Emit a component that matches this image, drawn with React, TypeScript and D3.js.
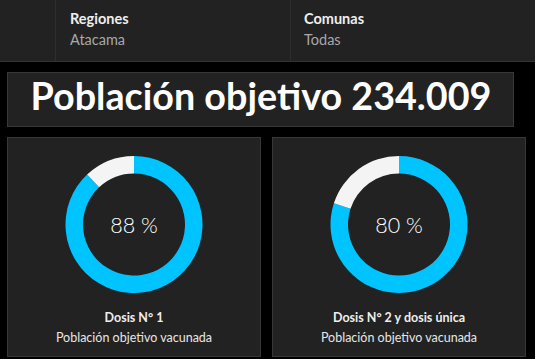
import React, { useRef, useEffect } from 'react';
import * as d3 from 'd3';

const filterLabels = ['Regiones', 'Comunas'];
const filterValues = ['Atacama', 'Todas'];
const titleText = 'Población objetivo 234.009';
const doseTitles = ['Dosis N° 1', 'Dosis N° 2 y dosis única'];
const doseSubtitles = ['Población objetivo vacunada', 'Población objetivo vacunada'];
const dosePercents = [88, 80];

function App() {
  const ref = useRef<SVGSVGElement | null>(null);

  useEffect(() => {
    const width = 535;
    const height = 359;
    const font = 'Lato, "Open Sans", sans-serif';
    const blue = '#00c4ff';

    const svg = d3.select(ref.current);
    svg.selectAll('*').remove();
    svg.attr('width', width).attr('height', height);

    svg.append('rect').attr('width', width).attr('height', height).attr('fill', '#000');

    // header bar
    svg.append('rect').attr('x', 0).attr('y', 0).attr('width', width).attr('height', 61).attr('fill', '#222');
    svg.append('line').attr('x1', 0).attr('x2', width).attr('y1', 61.5).attr('y2', 61.5).attr('stroke', '#333');
    [55, 290].forEach((x) => {
      svg.append('line').attr('x1', x + 0.5).attr('x2', x + 0.5).attr('y1', 0).attr('y2', 61).attr('stroke', '#2e2e2e');
    });

    const fx = [70, 304];
    filterLabels.forEach((lab, i) => {
      svg.append('text').attr('x', fx[i]).attr('y', 24).attr('fill', '#eee')
        .attr('font-family', font).attr('font-weight', 700).attr('font-size', 14.5).text(lab);
      svg.append('text').attr('x', fx[i]).attr('y', 45).attr('fill', '#a8a8a8')
        .attr('font-family', font).attr('font-size', 14.5).text(filterValues[i]);
    });

    // title box
    svg.append('rect').attr('x', 7.5).attr('y', 72.5).attr('width', 506).attr('height', 54)
      .attr('fill', '#222').attr('stroke', '#383838');
    svg.append('text').attr('x', 261).attr('y', 110).attr('text-anchor', 'middle')
      .attr('fill', '#fff').attr('font-family', font).attr('font-weight', 700).attr('font-size', 37.7)
      .text(titleText);

    // panels
    const panelX = [7.5, 272.5];
    const panelW = 253;
    const arc = d3.arc<any>().innerRadius(51).outerRadius(68.5);
    const pie = d3.pie<number>().sort(null).value((d) => d);

    dosePercents.forEach((p, i) => {
      const g = svg.append('g');
      g.append('rect').attr('x', panelX[i]).attr('y', 137.5).attr('width', panelW).attr('height', 219)
        .attr('fill', '#222').attr('stroke', '#383838');
      const cx = panelX[i] + panelW / 2;
      const donut = g.append('g').attr('transform', `translate(${cx},224.5)`);
      donut.selectAll('path')
        .data(pie([p, 100 - p]))
        .enter()
        .append('path')
        .attr('d', arc)
        .attr('fill', (d, j) => (j === 0 ? blue : '#f4f4f4'));
      donut.append('text').attr('y', 8).attr('text-anchor', 'middle').attr('fill', '#fff')
        .attr('font-family', font).attr('font-weight', 300).attr('font-size', 21.5)
        .text(`${p} %`);
      g.append('text').attr('x', cx).attr('y', 322).attr('text-anchor', 'middle').attr('fill', '#eee')
        .attr('font-family', font).attr('font-weight', 700).attr('font-size', 12.5).text(doseTitles[i]);
      g.append('text').attr('x', cx).attr('y', 342).attr('text-anchor', 'middle').attr('fill', '#e6e6e6')
        .attr('font-family', font).attr('font-size', 12.5).text(doseSubtitles[i]);
    });
  }, []);

  return (
    <div style={{ position: 'absolute', left: 0, top: 0 }}>
      <svg ref={ref} style={{ display: 'block' }} />
    </div>
  );
}

export default App;
